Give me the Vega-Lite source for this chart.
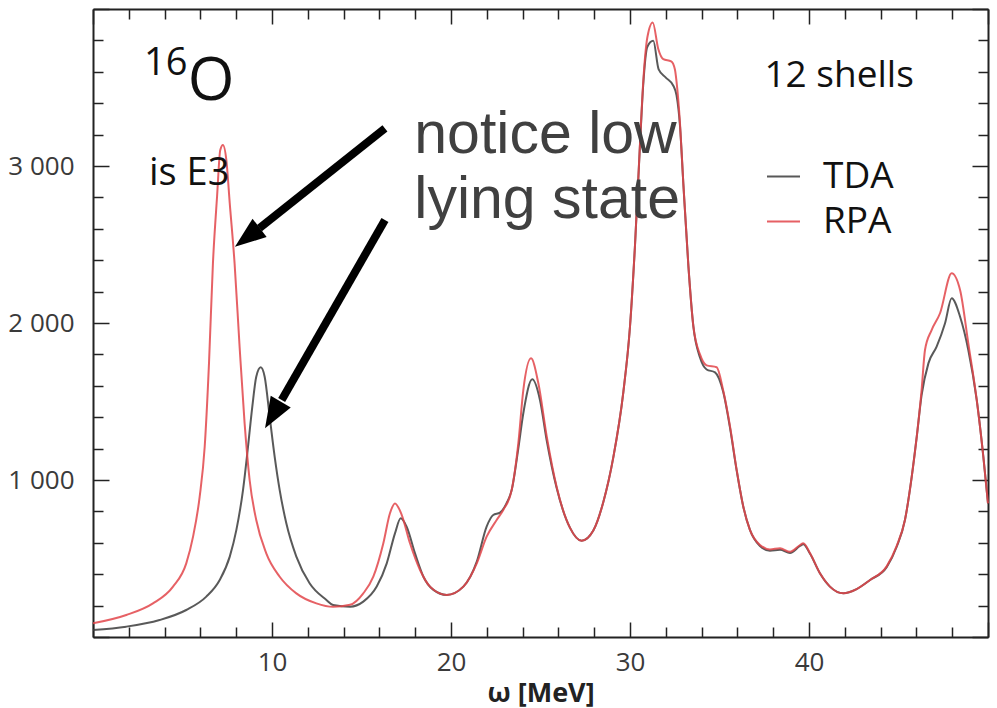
{
  "$schema": "https://vega.github.io/schema/vega-lite/v6.json",
  "width": 895,
  "height": 628,
  "autosize": {"type": "none"},
  "padding": {"left": 93, "top": 9, "right": 9, "bottom": 71},
  "background": "white",
  "config": {
    "view": {"stroke": null},
    "axis": {
      "domainColor": "#222222",
      "domainWidth": 2,
      "tickColor": "#222222",
      "tickWidth": 1.5,
      "labelFont": "Open Sans",
      "labelFontSize": 26,
      "labelColor": "#3a3a3a",
      "grid": false,
      "labelOverlap": false,
      "labelFlush": false
    }
  },
  "datasets": {
    "spectra": [
      {"model": "TDA", "omega": 0, "strength": 45},
      {"model": "TDA", "omega": 1.86, "strength": 66},
      {"model": "TDA", "omega": 3.72, "strength": 108},
      {"model": "TDA", "omega": 5.21, "strength": 172},
      {"model": "TDA", "omega": 6.33, "strength": 257},
      {"model": "TDA", "omega": 7.08, "strength": 363},
      {"model": "TDA", "omega": 7.64, "strength": 512},
      {"model": "TDA", "omega": 8.01, "strength": 682},
      {"model": "TDA", "omega": 8.38, "strength": 936},
      {"model": "TDA", "omega": 8.66, "strength": 1212},
      {"model": "TDA", "omega": 8.9, "strength": 1467},
      {"model": "TDA", "omega": 9.12, "strength": 1658},
      {"model": "TDA", "omega": 9.37, "strength": 1718},
      {"model": "TDA", "omega": 9.59, "strength": 1658},
      {"model": "TDA", "omega": 9.87, "strength": 1403},
      {"model": "TDA", "omega": 10.15, "strength": 1148},
      {"model": "TDA", "omega": 10.43, "strength": 936},
      {"model": "TDA", "omega": 10.8, "strength": 724},
      {"model": "TDA", "omega": 11.36, "strength": 512},
      {"model": "TDA", "omega": 12.1, "strength": 342},
      {"model": "TDA", "omega": 13.04, "strength": 236},
      {"model": "TDA", "omega": 13.41, "strength": 204},
      {"model": "TDA", "omega": 14.36, "strength": 193},
      {"model": "TDA", "omega": 15.1, "strength": 225},
      {"model": "TDA", "omega": 15.85, "strength": 321},
      {"model": "TDA", "omega": 16.41, "strength": 469},
      {"model": "TDA", "omega": 16.87, "strength": 660},
      {"model": "TDA", "omega": 17.19, "strength": 756},
      {"model": "TDA", "omega": 17.52, "strength": 703},
      {"model": "TDA", "omega": 17.99, "strength": 533},
      {"model": "TDA", "omega": 18.46, "strength": 384},
      {"model": "TDA", "omega": 19.02, "strength": 300},
      {"model": "TDA", "omega": 19.76, "strength": 268},
      {"model": "TDA", "omega": 20.69, "strength": 321},
      {"model": "TDA", "omega": 21.44, "strength": 480},
      {"model": "TDA", "omega": 21.99, "strength": 703},
      {"model": "TDA", "omega": 22.36, "strength": 777},
      {"model": "TDA", "omega": 22.74, "strength": 792},
      {"model": "TDA", "omega": 23.1, "strength": 851},
      {"model": "TDA", "omega": 23.39, "strength": 936},
      {"model": "TDA", "omega": 23.76, "strength": 1200},
      {"model": "TDA", "omega": 24.04, "strength": 1425},
      {"model": "TDA", "omega": 24.54, "strength": 1641},
      {"model": "TDA", "omega": 24.97, "strength": 1510},
      {"model": "TDA", "omega": 25.35, "strength": 1250},
      {"model": "TDA", "omega": 25.9, "strength": 950},
      {"model": "TDA", "omega": 26.65, "strength": 695},
      {"model": "TDA", "omega": 27.3, "strength": 613},
      {"model": "TDA", "omega": 27.95, "strength": 678},
      {"model": "TDA", "omega": 28.51, "strength": 860},
      {"model": "TDA", "omega": 29.07, "strength": 1146},
      {"model": "TDA", "omega": 29.63, "strength": 1562},
      {"model": "TDA", "omega": 30.0, "strength": 1978},
      {"model": "TDA", "omega": 30.28, "strength": 2497},
      {"model": "TDA", "omega": 30.56, "strength": 3140},
      {"model": "TDA", "omega": 30.74, "strength": 3520},
      {"model": "TDA", "omega": 30.97, "strength": 3760},
      {"model": "TDA", "omega": 31.3, "strength": 3797},
      {"model": "TDA", "omega": 31.6, "strength": 3615},
      {"model": "TDA", "omega": 32.0, "strength": 3563},
      {"model": "TDA", "omega": 32.42, "strength": 3511},
      {"model": "TDA", "omega": 32.6, "strength": 3450},
      {"model": "TDA", "omega": 32.79, "strength": 3260},
      {"model": "TDA", "omega": 32.98, "strength": 2887},
      {"model": "TDA", "omega": 33.26, "strength": 2367},
      {"model": "TDA", "omega": 33.54, "strength": 1978},
      {"model": "TDA", "omega": 33.91, "strength": 1780},
      {"model": "TDA", "omega": 34.28, "strength": 1704},
      {"model": "TDA", "omega": 34.75, "strength": 1686},
      {"model": "TDA", "omega": 35.21, "strength": 1560},
      {"model": "TDA", "omega": 35.59, "strength": 1330},
      {"model": "TDA", "omega": 35.96, "strength": 1060},
      {"model": "TDA", "omega": 36.33, "strength": 830},
      {"model": "TDA", "omega": 36.7, "strength": 682},
      {"model": "TDA", "omega": 37.26, "strength": 580},
      {"model": "TDA", "omega": 37.82, "strength": 550},
      {"model": "TDA", "omega": 38.38, "strength": 555},
      {"model": "TDA", "omega": 38.94, "strength": 535},
      {"model": "TDA", "omega": 39.5, "strength": 580},
      {"model": "TDA", "omega": 39.68, "strength": 590},
      {"model": "TDA", "omega": 40.06, "strength": 530},
      {"model": "TDA", "omega": 40.61, "strength": 406},
      {"model": "TDA", "omega": 41.17, "strength": 321},
      {"model": "TDA", "omega": 41.92, "strength": 278},
      {"model": "TDA", "omega": 42.66, "strength": 305},
      {"model": "TDA", "omega": 43.41, "strength": 363},
      {"model": "TDA", "omega": 44.34, "strength": 445},
      {"model": "TDA", "omega": 44.9, "strength": 575},
      {"model": "TDA", "omega": 45.36, "strength": 745},
      {"model": "TDA", "omega": 45.74, "strength": 1021},
      {"model": "TDA", "omega": 46.02, "strength": 1276},
      {"model": "TDA", "omega": 46.29, "strength": 1540},
      {"model": "TDA", "omega": 46.67, "strength": 1743},
      {"model": "TDA", "omega": 47.13, "strength": 1849},
      {"model": "TDA", "omega": 47.6, "strength": 1998},
      {"model": "TDA", "omega": 47.97, "strength": 2157},
      {"model": "TDA", "omega": 48.44, "strength": 2040},
      {"model": "TDA", "omega": 48.9, "strength": 1828},
      {"model": "TDA", "omega": 49.37, "strength": 1510},
      {"model": "TDA", "omega": 49.74, "strength": 1148},
      {"model": "TDA", "omega": 50.0, "strength": 851},
      {"model": "RPA", "omega": 0, "strength": 87},
      {"model": "RPA", "omega": 1.86, "strength": 140},
      {"model": "RPA", "omega": 3.35, "strength": 214},
      {"model": "RPA", "omega": 4.47, "strength": 321},
      {"model": "RPA", "omega": 5.21, "strength": 469},
      {"model": "RPA", "omega": 5.59, "strength": 639},
      {"model": "RPA", "omega": 5.96, "strength": 894},
      {"model": "RPA", "omega": 6.24, "strength": 1212},
      {"model": "RPA", "omega": 6.48, "strength": 1743},
      {"model": "RPA", "omega": 6.7, "strength": 2380},
      {"model": "RPA", "omega": 6.93, "strength": 2804},
      {"model": "RPA", "omega": 7.11, "strength": 3102},
      {"model": "RPA", "omega": 7.26, "strength": 3134},
      {"model": "RPA", "omega": 7.45, "strength": 3038},
      {"model": "RPA", "omega": 7.64, "strength": 2762},
      {"model": "RPA", "omega": 7.91, "strength": 2380},
      {"model": "RPA", "omega": 8.19, "strength": 1849},
      {"model": "RPA", "omega": 8.47, "strength": 1361},
      {"model": "RPA", "omega": 8.75, "strength": 1000},
      {"model": "RPA", "omega": 9.12, "strength": 745},
      {"model": "RPA", "omega": 9.68, "strength": 533},
      {"model": "RPA", "omega": 10.43, "strength": 384},
      {"model": "RPA", "omega": 11.36, "strength": 278},
      {"model": "RPA", "omega": 12.48, "strength": 214},
      {"model": "RPA", "omega": 13.41, "strength": 192},
      {"model": "RPA", "omega": 14.36, "strength": 205},
      {"model": "RPA", "omega": 15.1, "strength": 278},
      {"model": "RPA", "omega": 15.66, "strength": 384},
      {"model": "RPA", "omega": 16.22, "strength": 597},
      {"model": "RPA", "omega": 16.59, "strength": 788},
      {"model": "RPA", "omega": 16.87, "strength": 851},
      {"model": "RPA", "omega": 17.25, "strength": 777},
      {"model": "RPA", "omega": 17.71, "strength": 597},
      {"model": "RPA", "omega": 18.27, "strength": 427},
      {"model": "RPA", "omega": 18.83, "strength": 321},
      {"model": "RPA", "omega": 19.76, "strength": 268},
      {"model": "RPA", "omega": 20.69, "strength": 321},
      {"model": "RPA", "omega": 21.44, "strength": 469},
      {"model": "RPA", "omega": 21.99, "strength": 639},
      {"model": "RPA", "omega": 22.55, "strength": 745},
      {"model": "RPA", "omega": 22.92, "strength": 809},
      {"model": "RPA", "omega": 23.39, "strength": 936},
      {"model": "RPA", "omega": 23.76, "strength": 1233},
      {"model": "RPA", "omega": 24.04, "strength": 1573},
      {"model": "RPA", "omega": 24.47, "strength": 1775},
      {"model": "RPA", "omega": 24.88, "strength": 1616},
      {"model": "RPA", "omega": 25.35, "strength": 1276},
      {"model": "RPA", "omega": 25.9, "strength": 957},
      {"model": "RPA", "omega": 26.65, "strength": 695},
      {"model": "RPA", "omega": 27.3, "strength": 613},
      {"model": "RPA", "omega": 27.95, "strength": 678},
      {"model": "RPA", "omega": 28.51, "strength": 860},
      {"model": "RPA", "omega": 29.07, "strength": 1146},
      {"model": "RPA", "omega": 29.63, "strength": 1562},
      {"model": "RPA", "omega": 30.0, "strength": 1978},
      {"model": "RPA", "omega": 30.28, "strength": 2497},
      {"model": "RPA", "omega": 30.56, "strength": 3147},
      {"model": "RPA", "omega": 30.74, "strength": 3537},
      {"model": "RPA", "omega": 30.97, "strength": 3820},
      {"model": "RPA", "omega": 31.27, "strength": 3914},
      {"model": "RPA", "omega": 31.58, "strength": 3745},
      {"model": "RPA", "omega": 31.86, "strength": 3680},
      {"model": "RPA", "omega": 32.3, "strength": 3666},
      {"model": "RPA", "omega": 32.51, "strength": 3615},
      {"model": "RPA", "omega": 32.6, "strength": 3537},
      {"model": "RPA", "omega": 32.79, "strength": 3277},
      {"model": "RPA", "omega": 32.98, "strength": 2887},
      {"model": "RPA", "omega": 33.26, "strength": 2367},
      {"model": "RPA", "omega": 33.54, "strength": 1978},
      {"model": "RPA", "omega": 33.91, "strength": 1800},
      {"model": "RPA", "omega": 34.28, "strength": 1730},
      {"model": "RPA", "omega": 34.84, "strength": 1718},
      {"model": "RPA", "omega": 35.21, "strength": 1568},
      {"model": "RPA", "omega": 35.59, "strength": 1340},
      {"model": "RPA", "omega": 35.96, "strength": 1064},
      {"model": "RPA", "omega": 36.33, "strength": 830},
      {"model": "RPA", "omega": 36.7, "strength": 682},
      {"model": "RPA", "omega": 37.26, "strength": 586},
      {"model": "RPA", "omega": 37.82, "strength": 558},
      {"model": "RPA", "omega": 38.38, "strength": 565},
      {"model": "RPA", "omega": 38.94, "strength": 543},
      {"model": "RPA", "omega": 39.5, "strength": 586},
      {"model": "RPA", "omega": 39.68, "strength": 597},
      {"model": "RPA", "omega": 40.06, "strength": 533},
      {"model": "RPA", "omega": 40.61, "strength": 406},
      {"model": "RPA", "omega": 41.17, "strength": 321},
      {"model": "RPA", "omega": 41.92, "strength": 278},
      {"model": "RPA", "omega": 42.66, "strength": 305},
      {"model": "RPA", "omega": 43.41, "strength": 363},
      {"model": "RPA", "omega": 44.34, "strength": 450},
      {"model": "RPA", "omega": 44.9, "strength": 580},
      {"model": "RPA", "omega": 45.36, "strength": 745},
      {"model": "RPA", "omega": 45.74, "strength": 1021},
      {"model": "RPA", "omega": 46.02, "strength": 1276},
      {"model": "RPA", "omega": 46.29, "strength": 1573},
      {"model": "RPA", "omega": 46.48, "strength": 1828},
      {"model": "RPA", "omega": 46.85, "strength": 1955},
      {"model": "RPA", "omega": 47.32, "strength": 2062},
      {"model": "RPA", "omega": 47.97, "strength": 2317},
      {"model": "RPA", "omega": 48.44, "strength": 2210},
      {"model": "RPA", "omega": 48.9, "strength": 1870},
      {"model": "RPA", "omega": 49.37, "strength": 1510},
      {"model": "RPA", "omega": 49.74, "strength": 1148},
      {"model": "RPA", "omega": 50.0, "strength": 851}
    ],
    "arrows": [
      {"id": "a", "x": 16.31, "y": 3240, "x2": 9.3, "y2": 2605, "tipx": 7.93, "tipy": 2486},
      {"id": "b", "x": 16.31, "y": 2656, "x2": 10.54, "y2": 1510, "tipx": 9.61, "tipy": 1329}
    ]
  },
  "resolve": {"axis": {"x": "independent", "y": "independent"}},
  "layer": [
    {
      "data": {"name": "spectra"},
      "mark": {"type": "line", "strokeWidth": 2, "opacity": 0.85, "interpolate": "monotone"},
      "encoding": {
        "x": {
          "field": "omega", "type": "quantitative",
          "scale": {"domain": [0, 50], "nice": false, "zero": false},
          "axis": {
            "orient": "bottom",
            "values": [0,2,4,6,8,10,12,14,16,18,20,22,24,26,28,30,32,34,36,38,40,42,44,46,48,50],
            "tickSize": {"condition": {"test": "datum.value % 10 === 0", "value": -15}, "value": -10},
            "labelPadding": 27,
            "labelExpr": "(datum.value % 10 === 0 && datum.value > 0 && datum.value < 50) ? datum.label : ''",
            "title": "ω [MeV]",
            "titleFont": "Open Sans",
            "titleFontSize": 27,
            "titleFontWeight": "bold",
            "titleColor": "#222222",
            "titlePadding": 0
          }
        },
        "y": {
          "field": "strength", "type": "quantitative",
          "scale": {"domain": [0, 4000], "nice": false, "zero": false},
          "axis": {
            "orient": "left",
            "values": [0,200,400,600,800,1000,1200,1400,1600,1800,2000,2200,2400,2600,2800,3000,3200,3400,3600,3800,4000],
            "tickSize": {"condition": {"test": "datum.value % 1000 === 0", "value": -16}, "value": -10},
            "labelPadding": 35,
            "labelExpr": "(datum.value % 1000 === 0 && datum.value > 0 && datum.value < 4000) ? replace(format(datum.value, ','), ',', ' ') : ''",
            "title": null
          }
        },
        "color": {
          "field": "model", "type": "nominal",
          "scale": {"domain": ["TDA", "RPA"], "range": ["#3c3c3c", "#e2454a"]},
          "legend": {
            "orient": "none",
            "legendX": 672,
            "legendY": 149,
            "title": null,
            "padding": 0,
            "symbolType": "stroke",
            "symbolSize": 1089,
            "symbolStrokeWidth": 2,
            "labelFont": "Open Sans",
            "labelFontSize": 37,
            "labelColor": "#111111",
            "labelOffset": 21,
            "rowPadding": 7
          }
        }
      }
    },
    {
      "data": {"name": "arrows"},
      "mark": {"type": "rule", "strokeWidth": 8, "color": "black", "strokeCap": "butt"},
      "encoding": {
        "x": {"field": "x", "type": "quantitative", "scale": {"domain": [0, 50], "nice": false, "zero": false},
          "axis": {"orient": "top", "values": [0,2,4,6,8,10,12,14,16,18,20,22,24,26,28,30,32,34,36,38,40,42,44,46,48,50],
            "tickSize": {"condition": {"test": "datum.value % 10 === 0", "value": -15}, "value": -10},
            "labels": false, "title": null}},
        "y": {"field": "y", "type": "quantitative", "scale": {"domain": [0, 4000], "nice": false, "zero": false},
          "axis": {"orient": "right", "values": [0,200,400,600,800,1000,1200,1400,1600,1800,2000,2200,2400,2600,2800,3000,3200,3400,3600,3800,4000],
            "tickSize": {"condition": {"test": "datum.value % 1000 === 0", "value": -16}, "value": -10},
            "labels": false, "title": null}},
        "x2": {"field": "x2"},
        "y2": {"field": "y2"}
      }
    },
    {
      "data": {"name": "arrows"},
      "transform": [{"filter": "datum.id === 'a'"}],
      "mark": {"type": "point", "shape": "M0,0L0.75,2L-0.75,2Z", "size": 961, "angle": 232.6, "filled": true, "color": "black", "opacity": 1},
      "encoding": {
        "x": {"field": "tipx", "type": "quantitative", "scale": {"domain": [0, 50], "nice": false, "zero": false}, "axis": null},
        "y": {"field": "tipy", "type": "quantitative", "scale": {"domain": [0, 4000], "nice": false, "zero": false}, "axis": null}
      }
    },
    {
      "data": {"name": "arrows"},
      "transform": [{"filter": "datum.id === 'b'"}],
      "mark": {"type": "point", "shape": "M0,0L0.75,2L-0.75,2Z", "size": 961, "angle": 210.5, "filled": true, "color": "black", "opacity": 1},
      "encoding": {
        "x": {"field": "tipx", "type": "quantitative", "scale": {"domain": [0, 50], "nice": false, "zero": false}, "axis": null},
        "y": {"field": "tipy", "type": "quantitative", "scale": {"domain": [0, 4000], "nice": false, "zero": false}, "axis": null}
      }
    },
    {
      "data": {"values": [{"text": "notice low", "x": 17.95, "y": 3083}, {"text": "lying state", "x": 17.95, "y": 2669}]},
      "mark": {"type": "text", "font": "Liberation Sans", "fontSize": 59, "color": "#404040", "align": "left", "baseline": "alphabetic"},
      "encoding": {
        "x": {"field": "x", "type": "quantitative", "scale": {"domain": [0, 50], "nice": false, "zero": false}, "axis": null},
        "y": {"field": "y", "type": "quantitative", "scale": {"domain": [0, 4000], "nice": false, "zero": false}, "axis": null},
        "text": {"field": "text"}
      }
    },
    {
      "data": {"values": [{"text": "12 shells", "x": 37.51, "y": 3503}]},
      "mark": {"type": "text", "font": "Open Sans", "fontSize": 37, "color": "#111111", "align": "left", "baseline": "alphabetic"},
      "encoding": {
        "x": {"field": "x", "type": "quantitative", "scale": {"domain": [0, 50], "nice": false, "zero": false}, "axis": null},
        "y": {"field": "y", "type": "quantitative", "scale": {"domain": [0, 4000], "nice": false, "zero": false}, "axis": null},
        "text": {"field": "text"}
      }
    },
    {
      "data": {"values": [{"text": "is E3", "x": 3.13, "y": 2879}]},
      "mark": {"type": "text", "font": "Open Sans", "fontSize": 38, "color": "#111111", "align": "left", "baseline": "alphabetic"},
      "encoding": {
        "x": {"field": "x", "type": "quantitative", "scale": {"domain": [0, 50], "nice": false, "zero": false}, "axis": null},
        "y": {"field": "y", "type": "quantitative", "scale": {"domain": [0, 4000], "nice": false, "zero": false}, "axis": null},
        "text": {"field": "text"}
      }
    },
    {
      "data": {"values": [{"text": "16", "x": 2.85, "y": 3580}]},
      "mark": {"type": "text", "font": "Open Sans", "fontSize": 38, "color": "#111111", "align": "left", "baseline": "alphabetic"},
      "encoding": {
        "x": {"field": "x", "type": "quantitative", "scale": {"domain": [0, 50], "nice": false, "zero": false}, "axis": null},
        "y": {"field": "y", "type": "quantitative", "scale": {"domain": [0, 4000], "nice": false, "zero": false}, "axis": null},
        "text": {"field": "text"}
      }
    },
    {
      "data": {"values": [{"text": "O", "x": 5.3, "y": 3420}]},
      "mark": {"type": "text", "font": "Open Sans", "fontSize": 60, "color": "#111111", "align": "left", "baseline": "alphabetic"},
      "encoding": {
        "x": {"field": "x", "type": "quantitative", "scale": {"domain": [0, 50], "nice": false, "zero": false}, "axis": null},
        "y": {"field": "y", "type": "quantitative", "scale": {"domain": [0, 4000], "nice": false, "zero": false}, "axis": null},
        "text": {"field": "text"}
      }
    }
  ]
}
